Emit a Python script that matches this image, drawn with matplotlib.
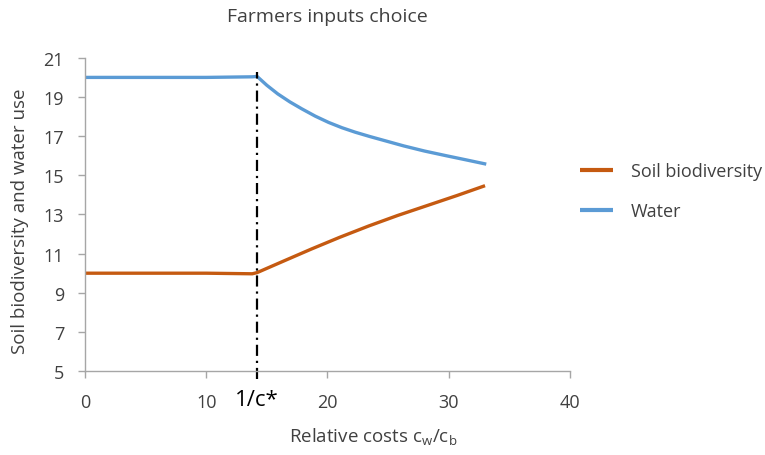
import matplotlib
matplotlib.use("Agg")
import matplotlib.pyplot as plt

plt.rcParams['font.family'] = ['Open Sans', 'DejaVu Sans']

# Data
threshold = 14.2  # 1/c*
soil_x = [0, 5, 10, 13.8, 14.2, 16.5, 18.7, 21, 23.4, 25.8, 28.3, 30.7, 33]
soil_y = [10.0, 10.0, 10.0, 9.97, 10.03, 10.65, 11.24, 11.83, 12.41, 12.95, 13.47, 13.97, 14.47]
water_x = [0, 5, 10, 13.8, 14.2, 15.0, 15.9, 16.9, 17.9, 19.0, 20.1, 21.2, 22.3, 23.5,
           24.9, 26.3, 28.0, 29.8, 31.5, 33.1]
water_y = [20.0, 20.0, 20.0, 20.03, 20.05, 19.6, 19.16, 18.75, 18.39, 18.02, 17.7, 17.43,
           17.2, 16.98, 16.74, 16.5, 16.24, 16.0, 15.78, 15.57]
vline_y = [4.59, 20.28]
xticks = [0, 10, 20, 30, 40]
yticks = [5, 7, 9, 11, 13, 15, 17, 19, 21]

soil_color = '#C55A11'
water_color = '#5B9BD5'
text_color = '#404040'
axis_color = '#A6A6A6'

fig = plt.figure(figsize=(7.65, 4.56), dpi=100)
ax = fig.add_axes([0.111, 0.184, 0.634, 0.687])

ax.plot(soil_x, soil_y, color=soil_color, lw=2.4, label='Soil biodiversity', solid_capstyle='butt')
ax.plot(water_x, water_y, color=water_color, lw=2.4, label='Water', solid_capstyle='butt')
ax.plot([threshold, threshold], vline_y, color='black', lw=1.6,
        linestyle=(0, (5, 2.2, 1, 2.2)), clip_on=False)

ax.set_xlim(0, 40)
ax.set_ylim(5, 21)
ax.set_xticks(xticks)
ax.set_yticks(yticks)
ax.tick_params(axis='both', colors=axis_color, labelcolor=text_color, labelsize=13,
               length=5, width=1)
ax.tick_params(axis='y', pad=10)
ax.tick_params(axis='x', pad=11)
for s in ['top', 'right']:
    ax.spines[s].set_visible(False)
for s in ['left', 'bottom']:
    ax.spines[s].set_color(axis_color)
    ax.spines[s].set_linewidth(1)

fig.text((85 + threshold * 12.125) / 765, 1 - 401 / 456, '1/c*', ha='center', va='center',
         fontsize=16, color='black')

fig.text(0.488, 1 - 437 / 456, 'Relative costs c$_\\mathregular{w}$/c$_\\mathregular{b}$',
         ha='center', va='center', fontsize=13.5, color=text_color)
fig.text(20 / 765, 1 - 221 / 456, 'Soil biodiversity and water use', rotation=90,
         ha='center', va='center', fontsize=13.5, color=text_color)
fig.text(327.5 / 765, 1 - 17 / 456, 'Farmers inputs choice', ha='center', va='center',
         fontsize=14, color=text_color)

leg = fig.legend(loc='center left', bbox_to_anchor=(580 / 765, 1 - 192 / 456),
                 bbox_transform=fig.transFigure, frameon=False, fontsize=13,
                 handlelength=1.8, labelspacing=1.2, handletextpad=1.0,
                 borderpad=0, borderaxespad=0, labelcolor=text_color)
for h in leg.get_lines():
    h.set_linewidth(3)

fig.savefig('out.png', dpi=100)
